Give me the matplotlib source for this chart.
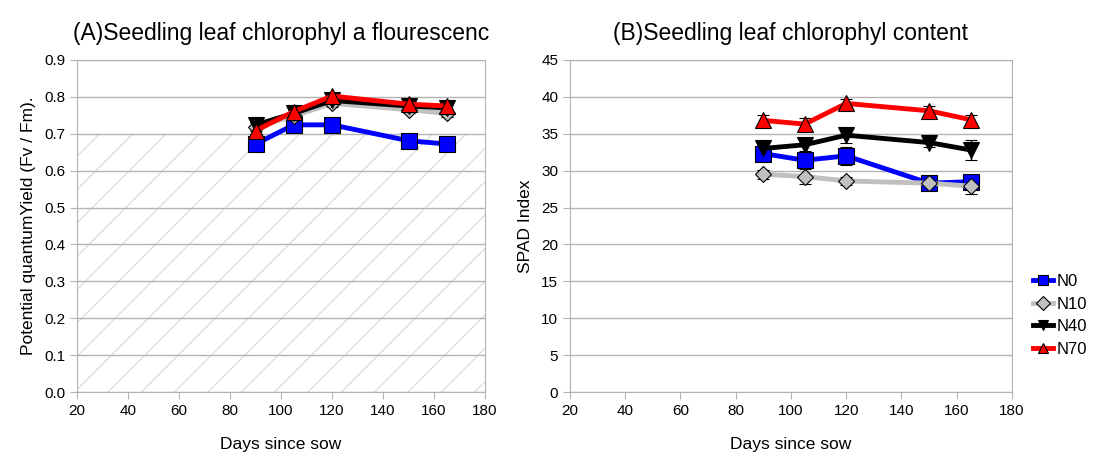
import numpy as np
import matplotlib
matplotlib.use("Agg")
import matplotlib.pyplot as plt
from matplotlib.lines import Line2D

plt.rcParams['font.family'] = ['Liberation Sans', 'DejaVu Sans']
plt.rcParams['hatch.linewidth'] = 0.7

days = [90, 105, 120, 150, 165]
series = ["N0", "N10", "N40", "N70"]

# (A) Fv/Fm
fvfm = {
    "N0":  [0.672, 0.724, 0.724, 0.681, 0.672],
    "N10": [0.718, 0.748, 0.782, 0.765, 0.755],
    "N40": [0.724, 0.755, 0.790, 0.775, 0.770],
    "N70": [0.708, 0.760, 0.802, 0.780, 0.775],
}
fvfm_err = {
    "N0":  [0.012, 0.012, 0.012, 0.012, 0.012],
    "N10": [0.010, 0.008, 0.010, 0.010, 0.010],
    "N40": [0.008, 0.008, 0.008, 0.008, 0.008],
    "N70": [0.008, 0.008, 0.008, 0.008, 0.008],
}

# (B) SPAD
spad = {
    "N0":  [32.3, 31.4, 32.0, 28.3, 28.5],
    "N10": [29.5, 29.2, 28.6, 28.3, 27.9],
    "N40": [33.0, 33.5, 34.8, 33.8, 32.8],
    "N70": [36.8, 36.3, 39.1, 38.1, 36.9],
}
spad_err = {
    "N0":  [1.0, 1.0, 1.2, 0.8, 0.8],
    "N10": [0.6, 1.0, 0.6, 0.6, 1.0],
    "N40": [0.6, 0.8, 1.0, 0.6, 1.4],
    "N70": [0.8, 0.8, 0.6, 0.6, 0.6],
}

styles = {
    "N0":  dict(color="#0000ff", marker="s", mfc="#0000ff", ms=11),
    "N10": dict(color="#c0c0c0", marker="D", mfc="#c0c0c0", ms=8),
    "N40": dict(color="#000000", marker="v", mfc="#000000", ms=11),
    "N70": dict(color="#ff0000", marker="^", mfc="#ff0000", ms=11),
}

fig = plt.figure(figsize=(10.94, 4.57), dpi=100)
axA = fig.add_axes([0.0704, 0.142, 0.373, 0.727])
axB = fig.add_axes([0.521, 0.142, 0.404, 0.727])


def style_axes(ax):
    for s in ax.spines.values():
        s.set_color("#b3b3b3")
    ax.set_xlim(20, 180)
    ax.set_xticks(np.arange(20, 181, 20))
    ax.grid(axis="y", color="#b3b3b3", lw=1)
    ax.set_axisbelow(True)
    ax.tick_params(colors="#b3b3b3", labelcolor="black", labelsize=11, length=5)
    ax.set_xlabel("Days since sow", fontsize=12.5, labelpad=14)


def draw(ax, data, err):
    for name in series:
        st = styles[name]
        ax.errorbar(days, data[name], yerr=err[name], color=st["color"], lw=3.5,
                    marker=st["marker"], mfc=st["mfc"], mec="black", mew=0.8,
                    ms=st["ms"], ecolor="black", elinewidth=1, capsize=4,
                    label=name, zorder=3)


style_axes(axA)
axA.set_ylim(0, 0.9)
axA.set_yticks(np.arange(0, 0.91, 0.1))
axA.set_yticklabels([f"{v:.1f}" for v in np.arange(0, 0.91, 0.1)])
axA.axhspan(0, 0.7, fill=False, hatch="/", edgecolor="#d4d4d4", lw=0, zorder=0)
draw(axA, fvfm, fvfm_err)
axA.set_ylabel("Potential quantumYield (Fv / Fm).", fontsize=12.5, labelpad=6)
axA.set_title("(A)Seedling leaf chlorophyl a flourescenc", fontsize=16.5, pad=14)

style_axes(axB)
axB.set_ylim(0, 45)
axB.set_yticks(np.arange(0, 46, 5))
draw(axB, spad, spad_err)
axB.set_ylabel("SPAD Index", fontsize=12.5, labelpad=6)
axB.set_title("(B)Seedling leaf chlorophyl content", fontsize=16.5, pad=14)

handles = [Line2D([], [], color=styles[n]["color"], lw=3.5, marker=styles[n]["marker"],
                  mfc=styles[n]["mfc"], mec="black", mew=0.8, ms=7) for n in series]
fig.legend(handles, series, loc="center left", bbox_to_anchor=(0.938, 0.31),
           frameon=False, fontsize=12, handlelength=1.2, handletextpad=0.2,
           labelspacing=0.45, borderaxespad=0)

fig.savefig("out.png", dpi=100)
